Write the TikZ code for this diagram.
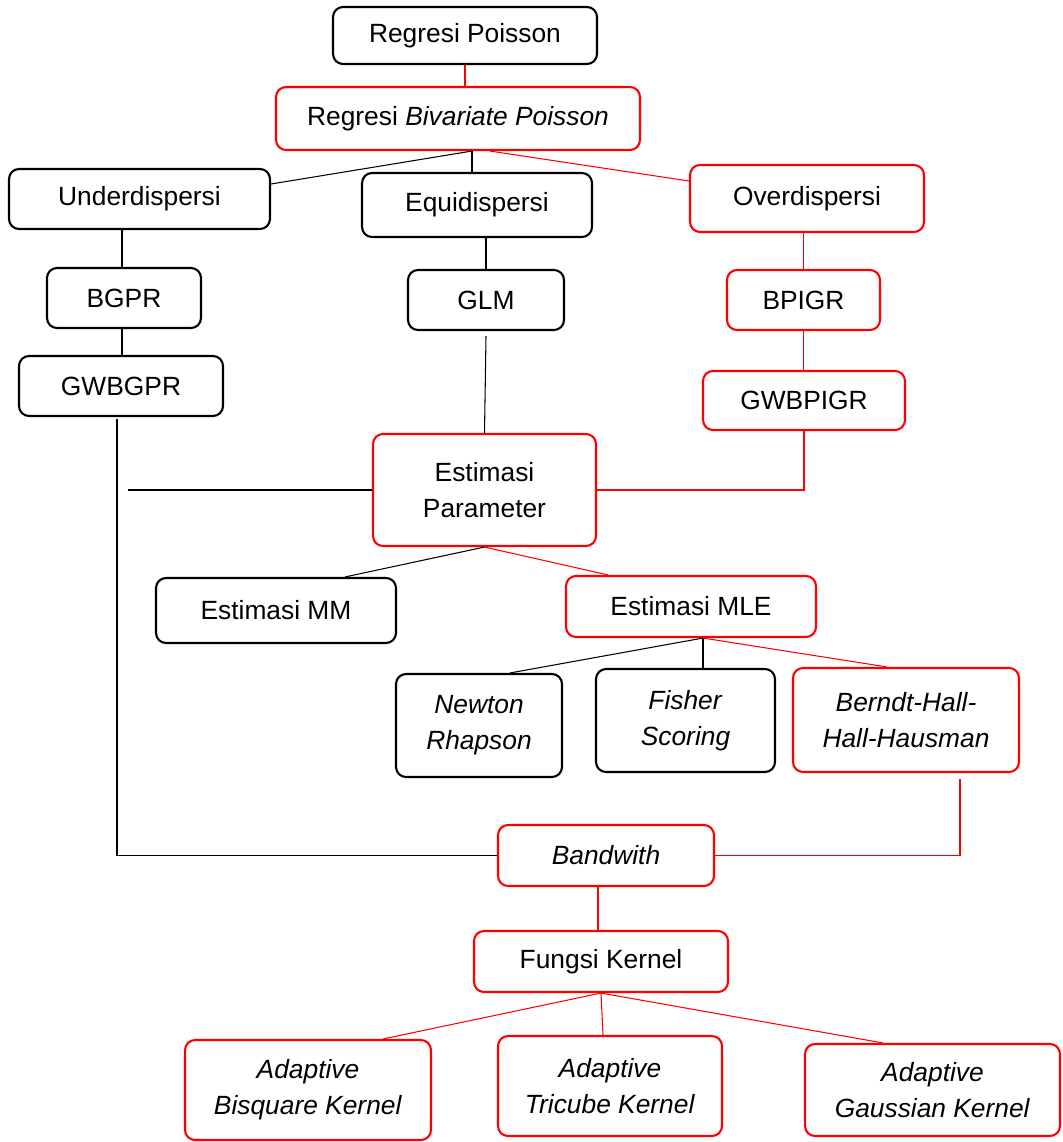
\documentclass[tikz,border=0pt]{standalone}
\usepackage{fontspec}
\setmainfont{Liberation Sans}
\usetikzlibrary{positioning}

\begin{document}
\begin{tikzpicture}[
        x=0.02cm, y=-0.02cm,
        every node/.style={font=\fontsize{15}{20.5}\selectfont, align=center, inner sep=0pt},
        box/.style={draw=black, line width=1.2pt, rounded corners=2mm},
        redbox/.style={draw=red, line width=1.2pt, rounded corners=2mm},
        edge/.style={draw=black, line width=0.6pt},
        rededge/.style={draw=red, line width=0.6pt},
    ]
    \useasboundingbox (0,0) rectangle (1062,1142);

    % === TOP ===
    \node[box, minimum width=5.28cm, minimum height=1.14cm] (rp) at (465, 35.5) {Regresi Poisson};
    \node[redbox, minimum width=7.28cm, minimum height=1.26cm] (rbp) at (458, 118.5) {Regresi \textit{Bivariate Poisson}};

    \draw[rededge] (rp.south) -- (rp.south |- rbp.north);

    % === DISPERSI ===
    \node[box, minimum width=5.22cm, minimum height=1.2cm] (under) at (139.5, 199) {Underdispersi};
    \node[box, minimum width=4.6cm, minimum height=1.28cm] (equi) at (477, 205) {Equidispersi};
    \node[redbox, minimum width=4.68cm, minimum height=1.34cm] (over) at (807, 198.5) {Overdispersi};

    \draw[edge] ([xshift=0.28cm]rbp.south) -- ([yshift=0.3cm]under.east);
    \draw[edge] ([xshift=0.28cm]rbp.south) -- ([xshift=0.28cm]rbp.south |- equi.north);
    \draw[rededge] ([xshift=0.64cm]rbp.south) -- ([yshift=0.35cm]over.west);

    % === MODELS ===
    \node[box, minimum width=3.08cm, minimum height=1.2cm] (bgpr) at (124, 298) {BGPR};
    \node[box, minimum width=4.08cm, minimum height=1.2cm] (gwbgpr) at (121, 386) {GWBGPR};
    \node[box, minimum width=3.12cm, minimum height=1.2cm] (glm) at (486, 300) {GLM};
    \node[redbox, minimum width=3.06cm, minimum height=1.2cm] (bpigr) at (803.5, 300) {BPIGR};
    \node[redbox, minimum width=4.04cm, minimum height=1.18cm] (gwbpigr) at (804, 400.5) {GWBPIGR};

    \draw[edge] ([xshift=-0.04cm]bgpr.north |- under.south) -- ([xshift=-0.04cm]bgpr.north);
    \draw[edge] ([xshift=-0.04cm]bgpr.south) -- ([xshift=-0.04cm]bgpr.south |- gwbgpr.north);
    \draw[edge] (glm.north |- equi.south) -- (glm.north);
    \draw[rededge] (bpigr.north |- over.south) -- (bpigr.north);
    \draw[rededge] (bpigr.south) -- (bpigr.south |- gwbpigr.north);

    % === ESTIMASI ===
    \node[redbox, minimum width=4.46cm, minimum height=2.24cm] (estpar) at (484.5, 490) {Estimasi\\Parameter};
    \coordinate (stub) at (128, 490);

    \draw[edge] ([yshift=-0.1cm]glm.south) -- (estpar.north);
    \draw[edge] (stub) -- (estpar.west);
    \draw[rededge] (gwbpigr.south) |- (estpar.east);

    \node[box, minimum width=4.8cm, minimum height=1.3cm] (estmm) at (276, 610.5) {Estimasi MM};
    \node[redbox, minimum width=5cm, minimum height=1.22cm] (estmle) at (691, 606.5) {Estimasi MLE};

    \draw[edge] (estpar.south) -- ([xshift=1.38cm]estmm.north);
    \draw[rededge] (estpar.south) -- ([xshift=-1.66cm]estmle.north);

    \node[box, minimum width=3.32cm, minimum height=2.06cm] (newton) at (479, 725.5) {\textit{Newton}\\\textit{Rhapson}};
    \node[box, minimum width=3.58cm, minimum height=2.06cm] (fisher) at (685.5, 720.5) {\textit{Fisher}\\\textit{Scoring}};
    \node[redbox, minimum width=4.52cm, minimum height=2.08cm] (bhhh) at (906, 720) {\textit{Berndt-Hall-}\\\textit{Hall-Hausman}};

    \draw[edge] ([xshift=0.24cm]estmle.south) -- ([xshift=0.62cm]newton.north);
    \draw[edge] ([xshift=0.24cm]estmle.south) -- ([xshift=0.24cm]estmle.south |- fisher.north);
    \draw[rededge] ([xshift=0.24cm]estmle.south) -- ([xshift=-0.38cm]bhhh.north);

    % === BANDWITH & KERNEL ===
    \node[redbox, minimum width=4.32cm, minimum height=1.22cm] (band) at (606, 855.5) {\textit{Bandwith}};
    \node[redbox, minimum width=5.08cm, minimum height=1.22cm] (kernel) at (601, 961.5) {Fungsi Kernel};

    \draw[edge] ([xshift=-0.08cm,yshift=-0.04cm]gwbgpr.south) |- (band.west);
    \draw[rededge] ([xshift=1.08cm,yshift=-0.12cm]bhhh.south) |- (band.east);
    \draw[rededge] ([xshift=-0.16cm]band.south) -- ([xshift=-0.16cm]band.south |- kernel.north);

    \node[redbox, minimum width=4.92cm, minimum height=2cm] (bisq) at (308, 1090) {\textit{Adaptive}\\\textit{Bisquare Kernel}};
    \node[redbox, minimum width=4.48cm, minimum height=2cm] (tric) at (610, 1086) {\textit{Adaptive}\\\textit{Tricube Kernel}};
    \node[redbox, minimum width=5.1cm, minimum height=1.84cm] (gauss) at (932.5, 1090) {\textit{Adaptive}\\\textit{Gaussian Kernel}};

    \draw[rededge] (kernel.south) -- ([xshift=1.5cm]bisq.north);
    \draw[rededge] (kernel.south) -- ([xshift=-0.14cm]tric.north);
    \draw[rededge] (kernel.south) -- ([xshift=-0.99cm]gauss.north);

\end{tikzpicture}
\end{document}
